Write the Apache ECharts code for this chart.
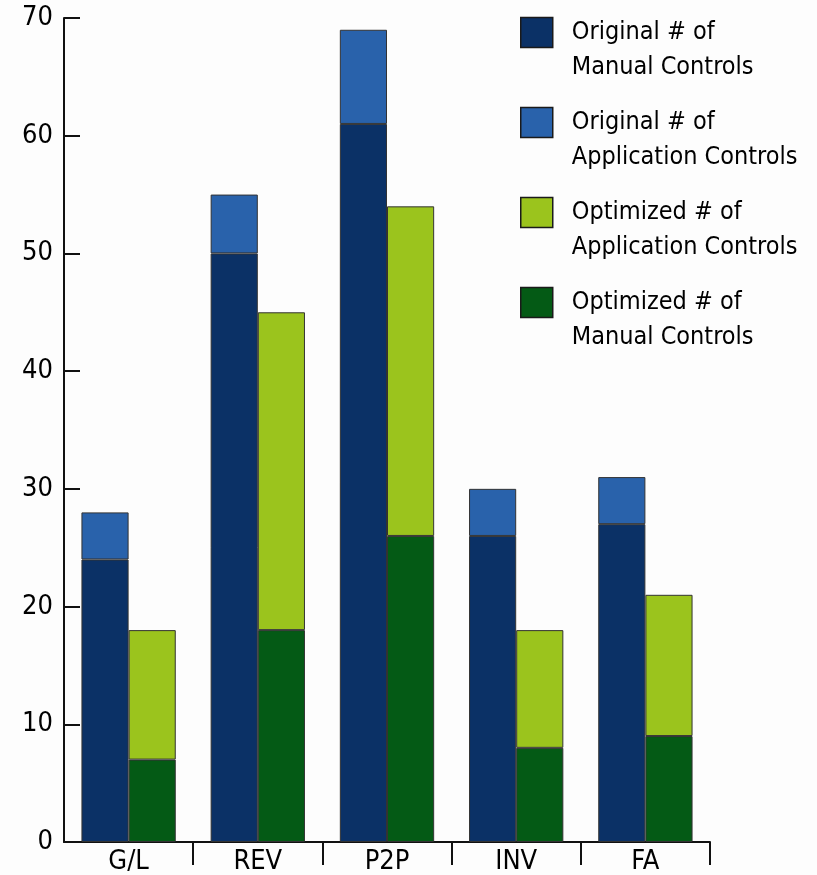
<!DOCTYPE html>
<html>
<head>
<meta charset="utf-8">
<script src="https://cdn.jsdelivr.net/npm/echarts@6/dist/echarts.min.js"></script>
<style>
  html, body { margin: 0; padding: 0; background: #fdfdfd; }
  #chart { width: 817px; height: 875px; }
</style>
</head>
<body>
<div id="chart"></div>
<script>
// Process areas
const categories = ['G/L', 'REV', 'P2P', 'INV', 'FA'];

// Control counts per process area
const originalManual = [24, 50, 61, 26, 27];
const originalApplication = [4, 5, 8, 4, 4];
const optimizedManual = [7, 18, 26, 8, 9];
const optimizedApplication = [11, 27, 28, 10, 12];

const yTicks = [0, 10, 20, 30, 40, 50, 60, 70];

const names = {
  origManual: 'Original # of\nManual Controls',
  origApp: 'Original # of\nApplication Controls',
  optApp: 'Optimized # of\nApplication Controls',
  optManual: 'Optimized # of\nManual Controls'
};

const colors = {
  origManual: '#0b3166',
  origApp: '#2962ab',
  optApp: '#9bc41d',
  optManual: '#045a15'
};

const FONT = '"Liberation Sans Narrow", "DejaVu Sans Condensed", "Roboto Condensed", "Liberation Sans", sans-serif';

// One legend block per series; a leading blank line keeps the swatch
// level with the first line of the two-line caption.
function legendAt(key, top) {
  return {
    data: [names[key]],
    left: 515,
    top: top,
    orient: 'vertical',
    icon: 'rect',
    itemWidth: 32,
    itemHeight: 30,
    itemGap: 0,
    itemStyle: { borderColor: '#1a1a1a', borderWidth: 1.5 },
    formatter: function (n) { return '\n' + n; },
    textStyle: {
      fontFamily: FONT,
      fontSize: 25,
      color: '#000',
      lineHeight: 35,
      padding: [0, 0, 0, 14]
    },
    selectedMode: false
  };
}

function barSeries(key, stack, data) {
  return {
    name: names[key],
    type: 'bar',
    stack: stack,
    data: data,
    barGap: '0%',
    barCategoryGap: '27%',
    itemStyle: { color: colors[key], borderColor: '#333', borderWidth: 1 },
    emphasis: { disabled: true }
  };
}

const chart = echarts.init(document.getElementById('chart'), null, { renderer: 'canvas' });
chart.setOption({
  backgroundColor: '#fdfdfd',
  animation: false,
  legend: [
    legendAt('origManual', -25),
    legendAt('origApp', 65),
    legendAt('optApp', 155),
    legendAt('optManual', 245)
  ],
  grid: { left: 64, right: 107, top: 18, bottom: 32, containLabel: false },
  xAxis: {
    type: 'category',
    data: categories,
    boundaryGap: true,
    axisLine: { lineStyle: { color: '#111', width: 2 } },
    axisTick: {
      show: true,
      length: 23,
      inside: false,
      lineStyle: { color: '#111', width: 2 },
      interval: function (index) { return index !== 0; }
    },
    axisLabel: {
      fontFamily: FONT,
      fontSize: 27,
      color: '#000',
      margin: 6
    }
  },
  yAxis: {
    type: 'value',
    min: yTicks[0],
    max: yTicks[yTicks.length - 1],
    interval: 10,
    splitLine: { show: false },
    axisLine: { show: true, lineStyle: { color: '#111', width: 2 } },
    axisTick: { show: true, inside: true, length: 16, lineStyle: { color: '#111', width: 2 } },
    axisLabel: {
      fontFamily: FONT,
      fontSize: 27,
      color: '#000',
      margin: 11
    }
  },
  series: [
    barSeries('origManual', 'orig', originalManual),
    barSeries('origApp', 'orig', originalApplication),
    barSeries('optManual', 'opt', optimizedManual),
    barSeries('optApp', 'opt', optimizedApplication)
  ]
});
</script>
</body>
</html>
